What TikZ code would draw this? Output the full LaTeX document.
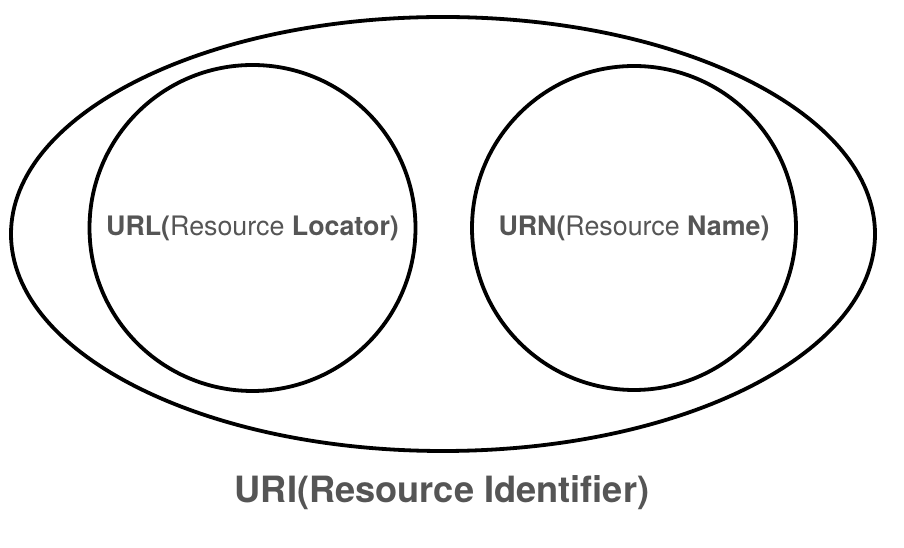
\documentclass[tikz,border=0pt]{standalone}
\usepackage{fontspec}
\setmainfont{TeX Gyre Heros}
\usetikzlibrary{shapes.geometric}
\definecolor{txtgray}{HTML}{555555}
\tikzset{
  ring/.style={draw=black, line width=3.8pt, inner sep=0pt},
  inlabel/.style={text=txtgray, font=\fontsize{26.8}{32}\selectfont},
  biglabel/.style={text=txtgray, font=\fontsize{36.2}{43}\selectfont\bfseries}
}
\begin{document}
\begin{tikzpicture}[x=1pt,y=1pt]
\useasboundingbox (0,0) rectangle (904,548);
\node[ring, ellipse, minimum width=864pt, minimum height=434pt] (uri) at (443,314) {};
\node[ring, circle, minimum size=326pt] (url) at (252.5,320) {};
\node[ring, circle, minimum size=324pt] (urn) at (634,320) {};
\node[inlabel] (urltext) at (url.center) {\textbf{URL(}Resource \textbf{Locator)}};
\node[inlabel] (urntext) at (urn.center) {\textbf{URN(}Resource \textbf{Name)}};
\node[biglabel] (uritext) at (442,55) {URI(Resource Identifier)};
\end{tikzpicture}
\end{document}
